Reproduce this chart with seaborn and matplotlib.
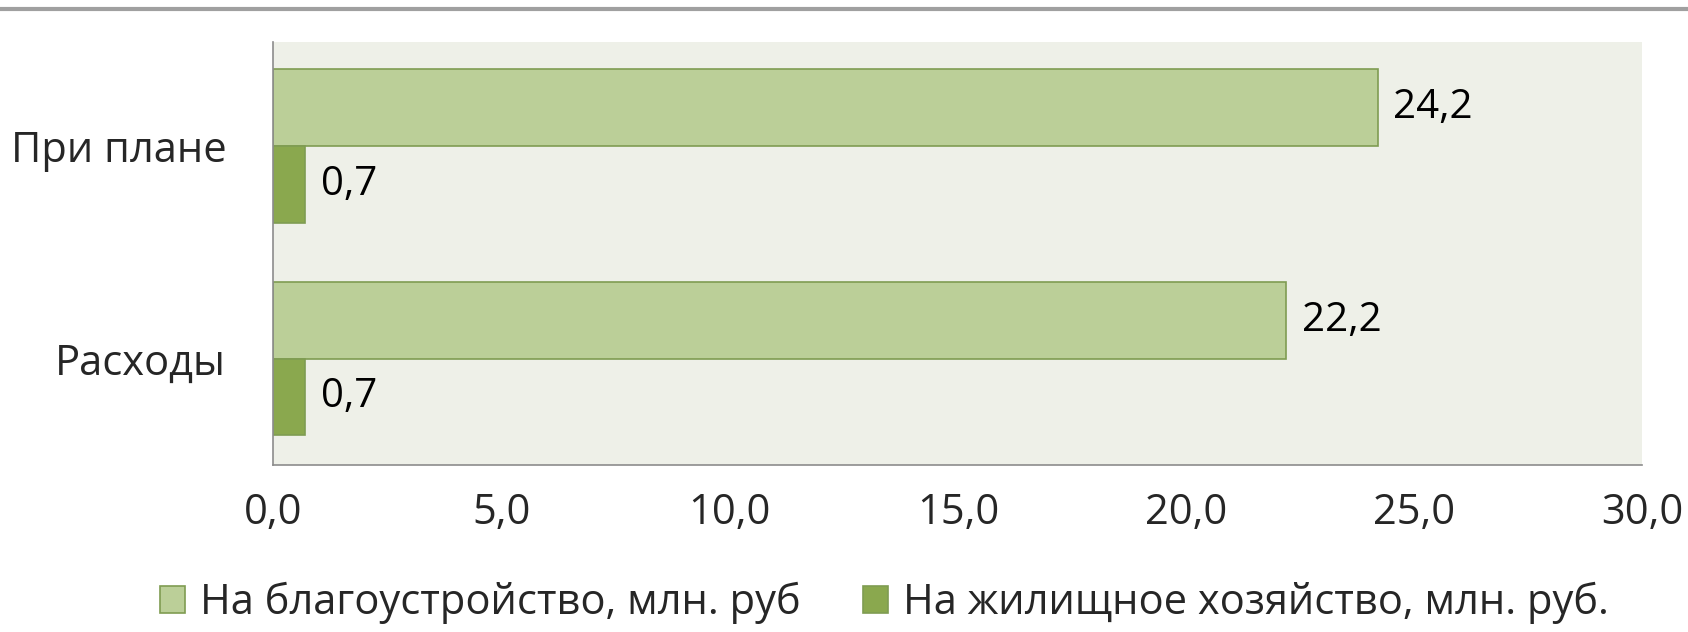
import pandas as pd
import numpy as np
import seaborn as sns
import matplotlib.pyplot as plt
from matplotlib.lines import Line2D
from matplotlib.ticker import FuncFormatter

categories = ['При плане', 'Расходы']
series = ['На благоустройство, млн. руб', 'На жилищное хозяйство, млн. руб.']
blago = [24.2, 22.2]
zhil = [0.7, 0.7]
xticks = [0, 5, 10, 15, 20, 25, 30]

sns.set_theme(style='white')
plt.rcParams['font.family'] = ['Open Sans', 'DejaVu Sans']

df = pd.DataFrame({
    'cat': categories * 2,
    'val': blago + zhil,
    'series': [series[0]] * 2 + [series[1]] * 2,
})

fig = plt.figure(figsize=(16.88, 6.32), dpi=100)
ax = fig.add_axes([0.162, 0.264, 0.811, 0.67])
ax.set_facecolor('#eef0e8')

sns.barplot(data=df, y='cat', x='val', hue='series', orient='h',
            palette=['#bbcf98', '#8aa84e'], saturation=1, width=0.72, gap=0,
            edgecolor='#7f9c52', linewidth=1.2, ax=ax)

def comma(v):
    return f'{v:.1f}'.replace('.', ',')

for cont in ax.containers:
    ax.bar_label(cont, labels=[comma(b.get_width()) for b in cont],
                 padding=11, fontsize=29, color='black')

ax.set_xlim(0, 30)
ax.set_ylim(1.5, -0.49)
ax.set_xticks(xticks)
ax.xaxis.set_major_formatter(FuncFormatter(lambda v, p: comma(v)))
ax.tick_params(axis='x', length=0, pad=19, labelsize=30)
ax.tick_params(axis='y', length=0, pad=34, labelsize=30)
ax.set_xlabel('')
ax.set_ylabel('')
for s in ['top', 'right']:
    ax.spines[s].set_visible(False)
for s in ['left', 'bottom']:
    ax.spines[s].set_color('#8c8c8c')
    ax.spines[s].set_linewidth(1.2)

handles, labels = ax.get_legend_handles_labels()
ax.get_legend().remove()
fig.legend(handles, labels, loc='center', bbox_to_anchor=(0.524, 0.046),
           ncol=2, frameon=False, fontsize=30, handlelength=0.6,
           handleheight=0.6, handletextpad=0.35, columnspacing=1.5)

fig.add_artist(Line2D([0, 1], [0.986, 0.986], transform=fig.transFigure,
                      color='#a0a0a0', linewidth=3))

fig.savefig('out.png', dpi=100)
